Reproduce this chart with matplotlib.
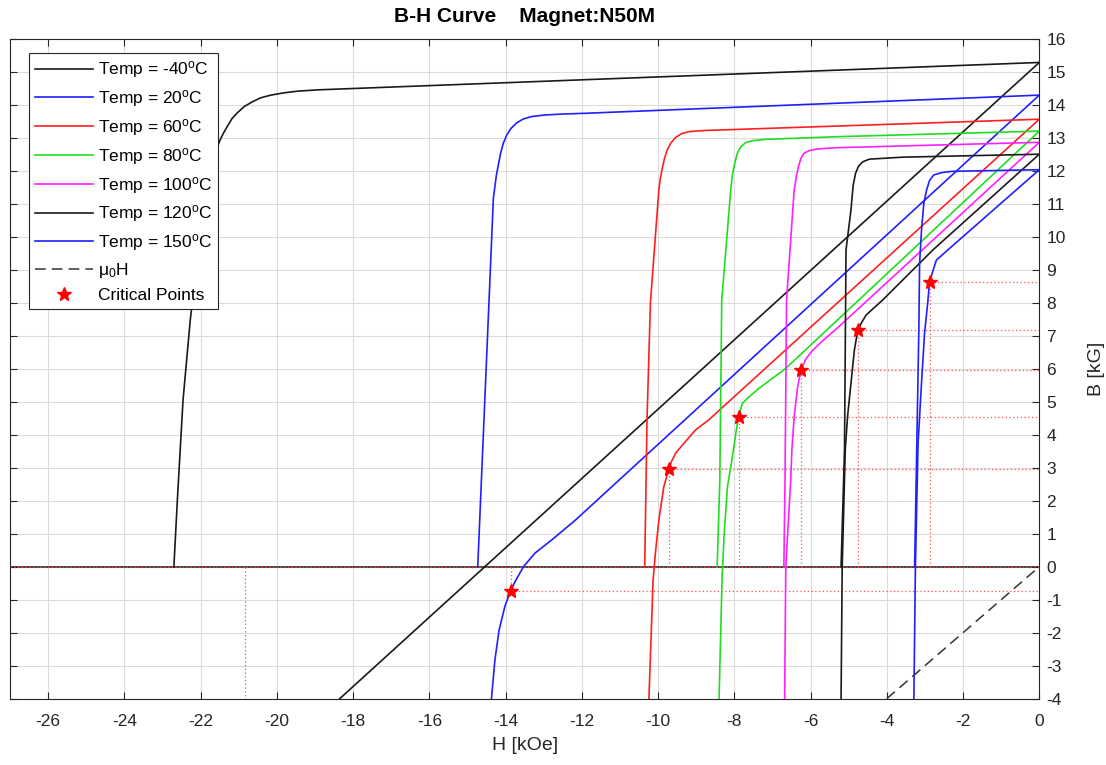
import matplotlib
matplotlib.use("Agg")
import matplotlib.pyplot as plt

plt.rcParams['font.family'] = ['Liberation Sans', 'DejaVu Sans']
plt.rcParams['mathtext.default'] = 'regular'
plt.rcParams['axes.unicode_minus'] = False

# ---------------- data ----------------
temps = ['-40', '20', '60', '80', '100', '120', '150']
colors = ['#1a1a1a', '#1f1fff', '#ff1f1f', '#1fdd1f', '#ff1fff', '#1a1a1a', '#1f1fff']

# intrinsic curves J(H)
H_J_m40 = [-22.7, -22.61, -22.46, -22.27, -22.06, -21.90, -21.64, -21.61, -21.54, -21.47,
           -21.38, -21.28, -21.17, -21.03, -20.86, -20.64, -20.42, -20.16, -19.81, -19.46,
           -18.93, 0]
J_m40 = [0, 2.0, 5.05, 7.48, 9.6, 11.1, 12.38, 12.58, 12.78, 12.98,
         13.18, 13.38, 13.59, 13.76, 13.94, 14.09, 14.21, 14.29, 14.36, 14.41,
         14.45, 15.28]
H_J_20 = [-14.73, -14.32, -14.28, -14.24, -14.19, -14.13, -14.06, -13.97, -13.86, -13.71,
          -13.53, -13.32, -12.96, -12.44, -11.91, 0]
J_20 = [0, 11.16, 11.52, 11.87, 12.17, 12.53, 12.83, 13.08, 13.28, 13.45,
        13.57, 13.64, 13.69, 13.72, 13.74, 14.29]
H_J_60 = [-10.35, -10.29, -10.2, -9.98, -9.94, -9.89, -9.83, -9.76, -9.67, -9.54,
          -9.37, -9.15, -8.75, -7.96, 0]
J_60 = [0, 4.45, 8.0, 11.42, 11.77, 12.07, 12.38, 12.63, 12.83, 13.01,
        13.13, 13.19, 13.22, 13.25, 13.56]
H_J_80 = [-8.45, -8.38, -8.33, -8.09, -8.05, -7.99, -7.92, -7.83, -7.70, -7.53,
          -7.17, -6.47, -5.33, 0]
J_80 = [0, 2.63, 8.07, 11.47, 11.87, 12.22, 12.53, 12.73, 12.85, 12.91,
        12.95, 12.98, 13.03, 13.2]
H_J_100 = [-6.70, -6.67, -6.63, -6.43, -6.38, -6.32, -6.25, -6.17, -6.03, -5.82, -5.24, 0]
J_100 = [0, 2.63, 8.07, 11.42, 11.77, 12.12, 12.38, 12.53, 12.61, 12.66, 12.70, 12.86]
H_J_120 = [-5.20, -5.11, -5.07, -4.94, -4.91, -4.88, -4.82, -4.74, -4.63, -4.46,
           -4.02, -3.58, 0]
J_120 = [0, 3.54, 9.6, 10.81, 11.21, 11.57, 11.92, 12.14, 12.27, 12.35,
         12.38, 12.41, 12.5]
H_J_150 = [-3.27, -3.16, -3.14, -3.09, -3.03, -2.96, -2.88, -2.77, -2.57, -2.30, 0]
J_150 = [0, 7.17, 9.19, 10.2, 11.01, 11.4, 11.7, 11.87, 11.94, 11.98, 12.03]

# normal curves B(H)
H_B_m40 = [-18.35, 0]
B_m40 = [-4.0, 15.28]
H_B_20 = [-14.37, -14.28, -14.17, -14.02, -13.87, -13.75, -13.53, -13.23, -12.79, -12.17, 0]
B_20 = [-4.0, -2.83, -1.92, -1.21, -0.74, -0.45, 0, 0.41, 0.81, 1.41, 14.29]
H_B_60 = [-10.24, -10.13, -10.07, -9.98, -9.85, -9.72, -9.65, -9.54, -9.32, -9.02, -8.67, 0]
B_60 = [-4.0, -0.4, 0.41, 1.41, 2.42, 2.95, 3.18, 3.44, 3.74, 4.14, 4.45, 13.56]
H_B_80 = [-8.40, -8.32, -8.27, -8.18, -8.05, -7.96, -7.89, -7.79, -7.61, -7.39, -7.09, -6.65, 0]
B_80 = [-4.0, -0.3, 0.91, 2.42, 3.33, 4.04, 4.55, 4.95, 5.15, 5.37, 5.63, 6.01, 13.2]
H_B_100 = [-6.68, -6.65, -6.52, -6.49, -6.43, -6.34, -6.25, -6.12, -5.95, -5.68, -5.33, -4.81, 0]
B_100 = [-4.0, 0, 2.63, 3.54, 4.55, 5.45, 5.96, 6.3, 6.55, 6.85, 7.2, 7.75, 12.86]
H_B_120 = [-5.20, -5.17, -5.09, -5.03, -4.94, -4.85, -4.76, -4.65, -4.54, -4.11, -2.79, 0]
B_120 = [-4.0, 0, 3.54, 4.55, 5.56, 6.57, 7.17, 7.42, 7.63, 8.08, 9.6, 12.5]
H_B_150 = [-3.29, -3.25, -3.18, -3.09, -3.01, -2.92, -2.88, -2.70, -2.35, 0]
B_150 = [-4.0, 0, 3.74, 5.56, 7.07, 8.08, 8.64, 9.29, 9.65, 12.03]

# critical points
crit_H = [-20.83, -13.87, -9.72, -7.89, -6.25, -4.76, -2.88]
crit_B = [-6.6, -0.74, 2.95, 4.55, 5.96, 7.17, 8.64]

# mu0*H reference line
mu_H = [-4, 0]
mu_B = [-4, 0]

x_ticks = list(range(-26, 1, 2))
y_ticks = list(range(-4, 17, 1))

J_sets = [(H_J_m40, J_m40), (H_J_20, J_20), (H_J_60, J_60), (H_J_80, J_80),
          (H_J_100, J_100), (H_J_120, J_120), (H_J_150, J_150)]
B_sets = [(H_B_m40, B_m40), (H_B_20, B_20), (H_B_60, B_60), (H_B_80, B_80),
          (H_B_100, B_100), (H_B_120, B_120), (H_B_150, B_150)]

# ---------------- figure ----------------
fig = plt.figure(figsize=(11.06, 7.65), dpi=100)
ax = fig.add_axes([0.009, 0.0867, 0.9307, 0.8627])
ax.set_xlim(-27, 0)
ax.set_ylim(-4, 16)

lw = 1.2
handles = []
for t, c, (hj, j), (hb, b) in zip(temps, colors, J_sets, B_sets):
    ln, = ax.plot(hj, j, color=c, lw=lw, label='Temp = %s$^{o}$C' % t, zorder=3,
                  solid_joinstyle='round')
    ax.plot(hb, b, color=c, lw=lw, zorder=3, solid_joinstyle='round')
    handles.append(ln)

# zero line
ax.plot([-27, 0], [0, 0], color='#1a1a1a', lw=1.1, zorder=2)
ax.plot([-27, 0], [0, 0], color='#ff4040', lw=0.9, ls=(0, (1, 2)), zorder=2.5)

# dotted lines from critical points
for h, b in zip(crit_H, crit_B):
    ax.plot([h, h], [0, b], color='#ff5050', lw=0.9, ls=(0, (1, 2)), zorder=2)
    ax.plot([h, 0], [b, b], color='#ff5050', lw=0.9, ls=(0, (1, 2)), zorder=2)

mu_ln, = ax.plot(mu_H, mu_B, color='#333333', lw=1.1, ls=(0, (7, 4)), label='μ$_0$H', zorder=3)
cp, = ax.plot(crit_H, crit_B, ls='none', marker='*', color='red', markersize=10,
              label='Critical Points', zorder=4)
handles += [mu_ln, cp]

ax.set_xticks(x_ticks)
ax.set_yticks(y_ticks)
ax.tick_params(direction='in', top=True, bottom=True, left=True, right=True,
               labelleft=False, labelright=True, length=5, width=0.8,
               labelsize=12.5, colors='#262626')
ax.tick_params(axis='x', pad=11)
ax.tick_params(axis='y', pad=5)
ax.grid(True, color='#dcdcdc', lw=0.8)
ax.set_axisbelow(True)
for s in ax.spines.values():
    s.set_color('#262626')
    s.set_linewidth(0.8)

ax.yaxis.set_label_position('right')
ax.set_ylabel('B [kG]', fontsize=14, color='#262626', labelpad=16)
ax.set_xlabel('H [kOe]', fontsize=14, color='#262626', labelpad=6)
ax.set_title('B-H Curve    Magnet:N50M', fontsize=15, fontweight='bold', pad=12)

leg = ax.legend(handles=handles, loc='upper left', bbox_to_anchor=(0.0188, 0.978),
                borderaxespad=0, fontsize=12.5, labelspacing=0.45, handlelength=3.3,
                handletextpad=0.3, borderpad=0.35, fancybox=False, framealpha=1,
                edgecolor='#262626')
leg.get_frame().set_linewidth(0.8)

fig.savefig('out.png', dpi=100)
